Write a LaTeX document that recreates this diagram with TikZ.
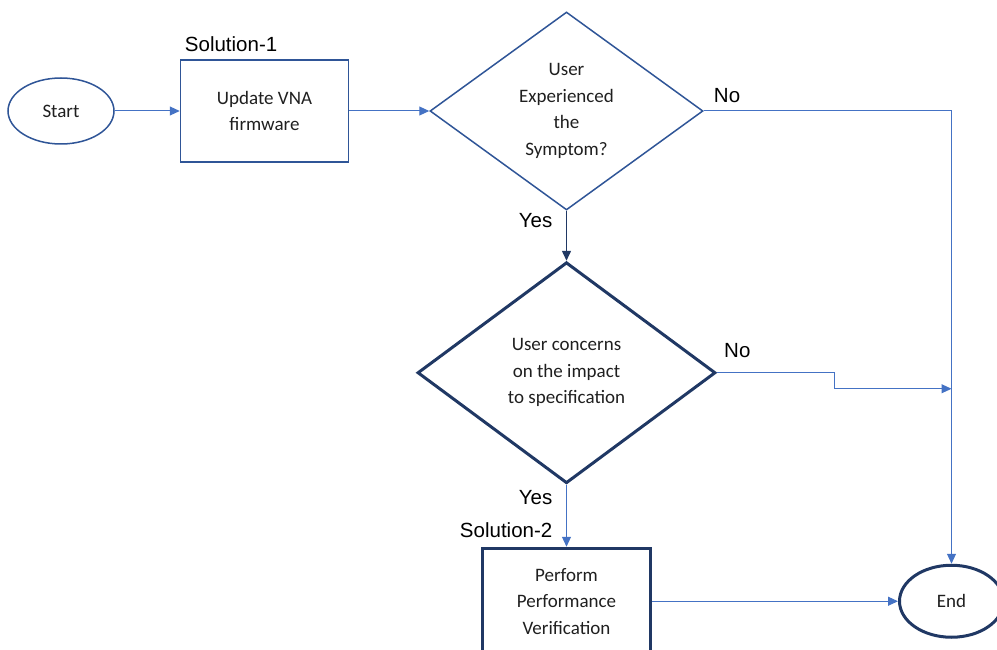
\documentclass[tikz,border=0pt]{standalone}
\usepackage{fontspec}
\setmainfont{Carlito}
\newfontfamily\labelfont{Liberation Sans}
\usetikzlibrary{arrows.meta, positioning, shapes.geometric}
\usepackage{xcolor}
\definecolor{flowblue}{HTML}{4472C4}
\definecolor{boxblue}{HTML}{2F5597}
\definecolor{navyblue}{HTML}{203864}
\definecolor{textgray}{HTML}{1F1F1F}

\begin{document}
\begin{tikzpicture}[
every node/.style={
    align=center,
    text=textgray,
    font=\fontsize{19}{26.5}\selectfont
},
terminal/.style={ellipse, draw=boxblue, line width=1.5pt, minimum width=106pt, minimum height=66pt, inner sep=0pt},
process/.style={rectangle, draw=boxblue, line width=1.5pt, minimum width=168pt, minimum height=102pt, inner sep=0pt},
decision/.style={diamond, aspect=1.38, draw=boxblue, line width=1.5pt, minimum width=273pt, minimum height=198pt, inner sep=0pt},
heavy/.style={draw=navyblue, line width=3pt},
lbl/.style={inner sep=0pt, text=black, font=\labelfont\fontsize{20.5}{24}\selectfont},
flow/.style={->, draw=flowblue, line width=1pt},
>={Triangle[length=10pt, width=9pt]}]

  \useasboundingbox (0,0) rectangle (997pt,-650pt);

  \node (start) [terminal] at (61pt,-111pt) {Start};
  \node (update) [process, right=65pt of start] {Update VNA\\firmware};
  \node (symptom) [decision, right=80pt of update] {User\\Experienced\\the\\Symptom?};
  \node (concerns) [decision, heavy, below=50pt of symptom, minimum width=298pt, minimum height=221pt] {User concerns\\on the impact\\to specification};
  \node (verify) [process, heavy, below=62pt of concerns, minimum height=106pt] {Perform\\Performance\\Verification};
  \node (finish) [terminal, heavy, right=246pt of verify, minimum width=104pt, minimum height=72pt] {End};

  \node (sol1) [lbl, above right=7pt and 5pt of update.north west] {Solution-1};
  \node (sol2) [lbl, above left=9pt and 14pt of verify.north] {Solution-2};
  \node (yes1) [lbl, below left=2pt and 14pt of symptom.south] {Yes};
  \node (no1) [lbl, above right=8pt and 10pt of symptom.east] {No};
  \node (yes2) [lbl, below left=5pt and 14pt of concerns.south] {Yes};
  \node (no2) [lbl, above right=15pt and 7pt of concerns.east] {No};

  \path (finish.north |- concerns.east) ++(0,-16pt) coordinate (merge);

  \draw[flow] (start) -- (update);
  \draw[flow] (update) -- (symptom);
  \draw[flow] (symptom.east) -| (finish.north);
  \draw[->, draw=navyblue, line width=1.5pt] (symptom.south) -- (concerns.north);
  \draw[flow] (concerns.east) -- ++(117pt,0) |- (merge);
  \draw[flow] (concerns.south) -- (verify.north);
  \draw[flow] (verify.east) -- (finish.west);

\end{tikzpicture}
\end{document}
